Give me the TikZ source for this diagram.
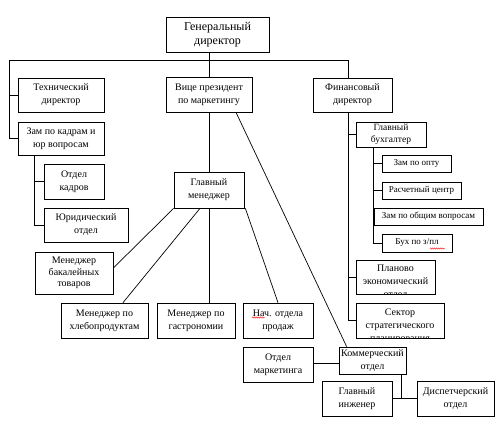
\documentclass[tikz,border=0pt]{standalone}
\usepackage{fontspec}
\setmainfont{Liberation Serif}
\usetikzlibrary{calc,decorations.pathmorphing}
\begin{document}
\begin{tikzpicture}[x=1pt,y=-1pt,
  box/.style={draw,line width=0.7pt,inner sep=1pt,align=center,font=\fontsize{10}{13}\selectfont},
  smallbox/.style={box,font=\fontsize{9}{11}\selectfont},
  frame/.style={draw,line width=0.7pt},
  txt/.style={inner sep=0pt,align=center,font=\fontsize{10}{13}\selectfont},
  conn/.style={line width=0.7pt},
  spell/.style={red,line width=0.4pt,decorate,decoration={snake,amplitude=0.6pt,segment length=2pt}}]
\useasboundingbox (0,0) rectangle (498,427);
% nodes
\node[box,font=\fontsize{12}{14}\selectfont,minimum width=103pt,minimum height=35pt] (gd) at (217.5,34.5) {Генеральный\\директор};
\node[box,minimum width=86pt,minimum height=34pt] (tech) at (61,95) {Технический\\директор};
\node[box,minimum width=86pt,minimum height=33pt] (zam) at (61,138.5) {Зам по кадрам и\\юр вопросам};
\node[box,minimum width=86pt,minimum height=35pt] (vp) at (209,94.5) {Вице президент\\по маркетингу};
\node[box,minimum width=79pt,minimum height=34pt] (fin) at (352.5,95) {Финансовый\\директор};
\node[box,minimum width=60pt,minimum height=35pt] (ok) at (74,181.5) {Отдел\\кадров};
\node[box,minimum width=84pt,minimum height=34pt] (yur) at (86,225) {Юридический\\отдел};
\node[box,minimum width=70pt,minimum height=36pt] (gm) at (209,190) {Главный\\менеджер};
\node[box,font=\fontsize{10}{11.5}\selectfont,minimum width=78pt,minimum height=42pt] (bak) at (74,273) {Менеджер\\бакалейных\\товаров};
\node[box,minimum width=87pt,minimum height=35pt] (hleb) at (104.5,320.5) {Менеджер по\\хлебопродуктам};
\node[box,minimum width=78pt,minimum height=35pt] (gastr) at (196,320.5) {Менеджер по\\гастрономии};
\node[box,minimum width=70pt,minimum height=35pt] (nach) at (278,320.5) {Нач. отдела\\продаж};
\node[box,minimum width=70pt,minimum height=35pt] (mark) at (278,364.5) {Отдел\\маркетинга};
\node[box,minimum width=67pt,minimum height=27pt] (kom) at (372.5,360.5) {Коммерческий\\отдел};
\node[box,minimum width=70pt,minimum height=35pt] (gi) at (357,398.5) {Главный\\инженер};
\node[box,minimum width=77pt,minimum height=35pt] (disp) at (455.5,398.5) {Диспетчерский\\отдел};
\node[box,font=\fontsize{9.5}{12}\selectfont,minimum width=70pt,minimum height=25pt] (gb) at (391,134.5) {Главный\\бухгалтер};
\node[smallbox,minimum width=69pt,minimum height=17pt] (opt) at (416.5,163.5) {Зам по опту};
\node[smallbox,minimum width=79pt,minimum height=17pt] (rasch) at (421.5,190.5) {Расчетный центр};
\node[smallbox,minimum width=109pt,minimum height=17pt] (obsh) at (428.5,216.5) {Зам по общим вопросам};
\node[smallbox,minimum width=70pt,minimum height=18pt] (buh) at (417,243) {Бух по з/пл};
% boxes whose third line is cut off
\node[frame,minimum width=79pt,minimum height=34pt,inner sep=0pt] (plan) at (395.5,277) {};
\node[frame,minimum width=88pt,minimum height=35pt,inner sep=0pt] (sekt) at (400,320.5) {};
\begin{scope}
\clip (plan.north west) rectangle (plan.south east);
\node[txt,anchor=north] (plantxt) at ($(plan.north)+(0,5.5)$) {Планово\\экономический\\отдел};
\end{scope}
\begin{scope}
\clip (sekt.north west) rectangle (sekt.south east);
\node[txt,anchor=north] (sekttxt) at ($(sekt.north)+(0,6)$) {Сектор\\стратегического\\планирования};
\end{scope}
% coordinates
\coordinate (L) at (9,60);
\coordinate (R) at (348,60);
\coordinate (K) at (401,374);
% connectors
\draw[conn] (gd.south -| vp.north) -- (vp.north);
\draw[conn] (L) -- (R);
\draw[conn] (L) |- (zam.west);
\draw[conn] (tech.west -| L) -- (tech.west);
\draw[conn] (R) -- (R |- fin.north);
\draw[conn] (zam.south -| bak.west) |- (yur.west);
\draw[conn] (ok.west -| bak.west) -- (ok.west);
\draw[conn] (vp.south) -- (gm.north);
\draw[conn] ($(vp.south)+(27,0)$) -- ($(kom.north west)+(8,0)$);
\draw[conn] (gm.south west) -- ($(bak.east)+(0,-5)$);
\draw[conn] ($(gm.south)+(-9,0)$) -- ($(hleb.north)+(18.5,0)$);
\draw[conn] (gm.south) -- (gm.south |- gastr.north);
\draw[conn] ($(gm.south east)+(1,0)$) -- (nach.north);
\draw[conn] (fin.south -| R) |- (sekt.west);
\draw[conn] (gb.west -| R) -- (gb.west);
\draw[conn] (plan.west -| R) -- (plan.west);
\draw[conn] (gb.south -| obsh.west) |- (buh.west);
\draw[conn] (opt.west -| obsh.west) -- (opt.west);
\draw[conn] (rasch.west -| obsh.west) -- (rasch.west);
\draw[conn] ($(mark.east)+(0,-1.5)$) -- ($(mark.east -| kom.west)+(0,-1.5)$);
\draw[conn] (K) |- (gi.east);
\draw[conn] (gi.east) -- (disp.west);
% spell-check underlines
\draw[spell] (252,317.5) -- (265,317.5);
\draw[spell] (430,248.5) -- (445,248.5);
\end{tikzpicture}
\end{document}
